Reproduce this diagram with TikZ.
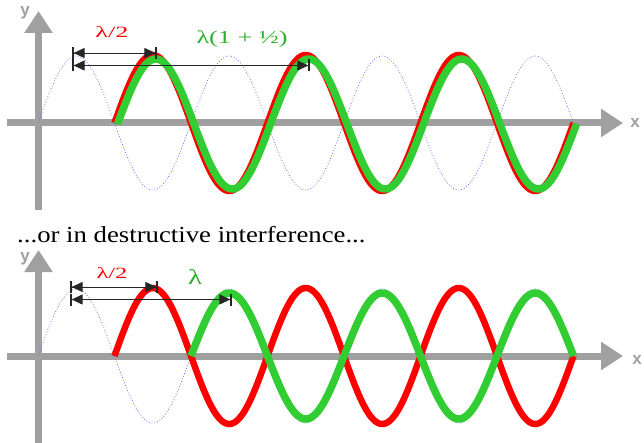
\documentclass[tikz,border=0pt]{standalone}
\usepackage{fontspec}
\setmainfont{Liberation Serif}
\newfontfamily\labelsans{Liberation Sans}
\usetikzlibrary{arrows.meta}
\definecolor{axisgray}{RGB}{160,160,160}
\definecolor{wavered}{RGB}{255,0,0}
\definecolor{wavegreen}{RGB}{50,205,50}
\definecolor{labelgreen}{RGB}{45,175,45}
\definecolor{dotblue}{RGB}{110,110,255}
\begin{document}
\begin{tikzpicture}[x=1pt,y=-1pt,
 axis/.style={draw=axisgray, line width=7pt, -{Triangle[length=22pt,width=27pt]}},
 ghost/.style={draw=dotblue, line width=0.8pt, dotted},
 redwave/.style={draw=wavered, line width=6.5pt},
 greenwave/.style={draw=wavegreen, line width=7.5pt},
 dimline/.style={draw=black!85, line width=0.9pt, {Bar[width=12pt,line width=1.6pt]Triangle[length=11pt,width=10pt]}-{Triangle[length=11pt,width=10pt]Bar[width=12pt,line width=1.6pt]}},
 axlabel/.style={text=axisgray, font=\labelsans\bfseries\fontsize{17}{17}\selectfont, inner sep=0pt},
 lab/.style={inner sep=0pt},
]
\useasboundingbox (0,0) rectangle (644,443);

% ---------- top panel ----------
\node[axlabel] (ytop) at (25,13) {y};
\node[axlabel] (xtop) at (635,123) {x};
\draw[axis] (7,123) -- (623,123);
\draw[axis] (38.5,210) -- (38.5,11);
\draw[ghost] plot[domain=38:573.5, samples=300, smooth] (\x, {123-67*sin((\x-38)/153*360)});
\draw[redwave] plot[domain=114.5:573.5, samples=300, smooth] (\x, {123-68*sin((\x-114.5)/153*360)});
\draw[greenwave] plot[domain=117.5:576.5, samples=300, smooth] (\x, {124-65*sin((\x-117.5)/153*360)});
\coordinate (t1a) at (72,53);
\coordinate (t1b) at (157,53);
\coordinate (t2a) at (72,65.5);
\coordinate (t2b) at (310,65.5);
\draw[dimline] (t1a) -- (t1b);
\draw[dimline] (t2a) -- (t2b);
\node[lab, text=wavered] (lhalftop) at (112,32) {\resizebox{33pt}{11pt}{λ/2}};
\node[lab, text=labelgreen] (lthree) at (242,39) {\resizebox{91pt}{12.8pt}{λ(1 + ½)}};

% ---------- caption ----------
\node[lab, anchor=base west] (caption) at (17,243) {\scalebox{1.163}[1]{\fontsize{23}{23}\selectfont ...or in destructive interference...}};

% ---------- bottom panel ----------
\node[axlabel] (ybot) at (25,259) {y};
\node[axlabel] (xbot) at (637,360) {x};
\draw[axis] (7,356) -- (623,356);
\draw[axis] (38.5,450) -- (38.5,250);
\draw[ghost] plot[domain=38:573.5, samples=300, smooth] (\x, {356-67*sin((\x-38)/153*360)});
\draw[redwave] plot[domain=114.5:573.5, samples=300, smooth] (\x, {356-68*sin((\x-114.5)/153*360)});
\draw[greenwave] plot[domain=191:573.5, samples=300, smooth] (\x, {356-63*sin((\x-191)/153*360)});
\coordinate (b1a) at (70,287);
\coordinate (b1b) at (158,287);
\coordinate (b2a) at (70,299.5);
\coordinate (b2b) at (232,299.5);
\draw[dimline] (b1a) -- (b1b);
\draw[dimline] (b2a) -- (b2b);
\node[lab, text=wavered] (lhalfbot) at (112,273) {\resizebox{31pt}{11pt}{λ/2}};
\node[lab, text=labelgreen] (lone) at (195,277) {\resizebox{14pt}{15pt}{λ}};
\end{tikzpicture}
\end{document}
